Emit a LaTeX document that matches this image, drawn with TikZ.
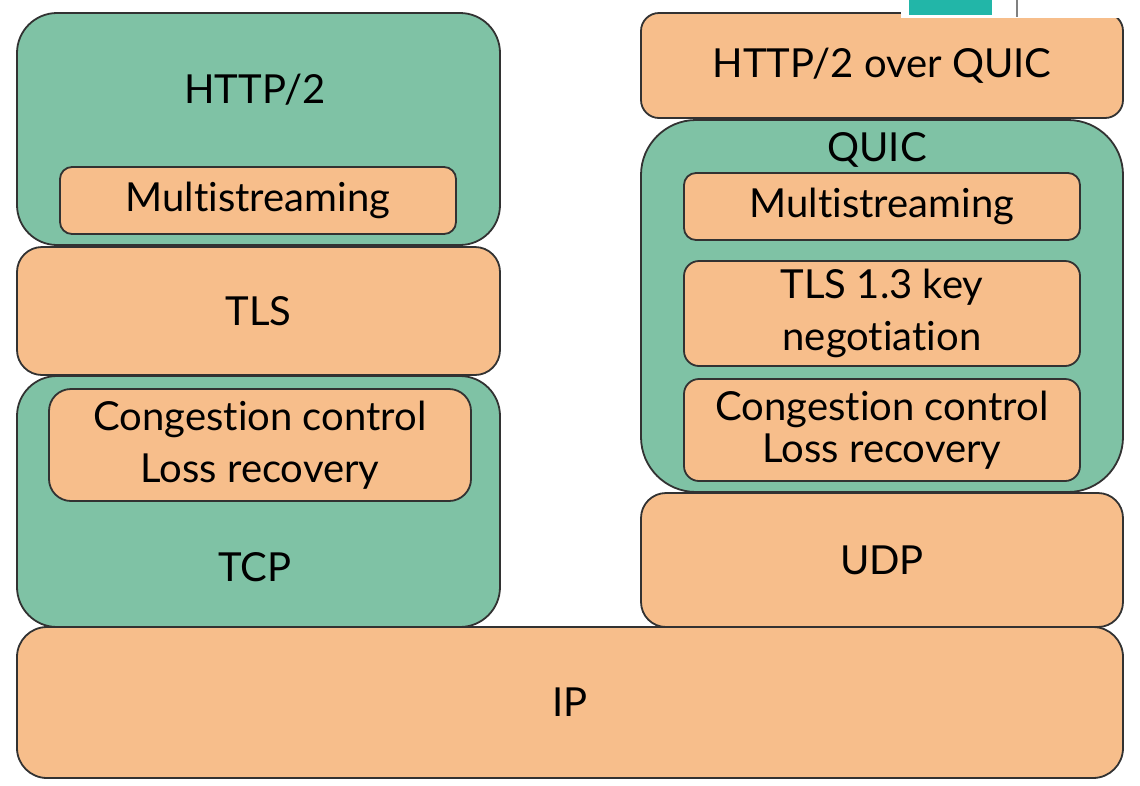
\documentclass[tikz,border=0pt]{standalone}
\usepackage{fontspec}
\setmainfont{Lato}[Ligatures=NoCommon]
\usepackage{tikz}
\usetikzlibrary{positioning}
\definecolor{boxgreen}{RGB}{127,194,165}
\definecolor{boxorange}{RGB}{247,190,139}
\definecolor{edgegray}{RGB}{50,50,50}
\definecolor{tabteal}{RGB}{34,182,168}

\begin{document}
\begin{tikzpicture}[x=1pt,y=-1pt,
    layer/.style={draw=edgegray,line width=1.8pt,rounded corners=#1,inner sep=0pt,
      align=center,font=\fontsize{40}{52}\selectfont},
    greenlayer/.style={layer=#1,fill=boxgreen},
    orangelayer/.style={layer=#1,fill=boxorange},
    caption/.style={font=\fontsize{40}{48}\selectfont,inner sep=0pt}]
  \useasboundingbox[fill=white] (0,0) rectangle (1140,785);
  % left stack: HTTP/2 over TLS over TCP
  \node[greenlayer=40pt,minimum width=483pt,minimum height=232pt](http2) at (258.5,129){};
  \node[caption](http2lbl) at (255,90){HTTP/2};
  \node[orangelayer=12pt,minimum width=396pt,minimum height=67pt](mstreaml) at (258,200.5){Multistreaming};
  \node[orangelayer=25pt,minimum width=483pt,minimum height=128pt](tls) at (258.5,311){TLS};
  \node[greenlayer=40pt,minimum width=483pt,minimum height=251pt](tcp) at (258.5,501.5){};
  \node[orangelayer=22pt,minimum width=422pt,minimum height=112pt](congl) at (260,445){Congestion control\\Loss recovery};
  \node[caption](tcplbl) at (255,567){TCP};
  % right stack: HTTP/2 over QUIC over UDP
  \node[orangelayer=18pt,minimum width=482pt,minimum height=105pt](h2quic) at (882,65.5){HTTP/2 over QUIC};
  \node[greenlayer=55pt,minimum width=482pt,minimum height=372pt](quic) at (882,306){};
  \node[caption](quiclbl) at (877,150){QUIC};
  \node[orangelayer=12pt,minimum width=396pt,minimum height=67pt](mstreamr) at (882,206.5){Multistreaming};
  \node[orangelayer=15pt,minimum width=396pt,minimum height=105pt](tlskey) at (882,313.5){TLS 1.3 key\\negotiation};
  \node[orangelayer=15pt,minimum width=396pt,minimum height=102pt](congr) at (882,430){Congestion control\\[-10pt]Loss recovery};
  \node[orangelayer=25pt,minimum width=482pt,minimum height=134pt](udp) at (882,560){UDP};
  % shared bottom layer
  \node[orangelayer=30pt,minimum width=1106pt,minimum height=151pt](ip) at (570,702.5){IP};
  % screenshot leftover in the top right corner
  \fill[white] (901,0) rectangle (1140,18);
  \fill[tabteal] (909,0) rectangle (992,15);
  \draw[gray,line width=1.5pt] (1017,0) -- (1017,17);
\end{tikzpicture}
\end{document}
